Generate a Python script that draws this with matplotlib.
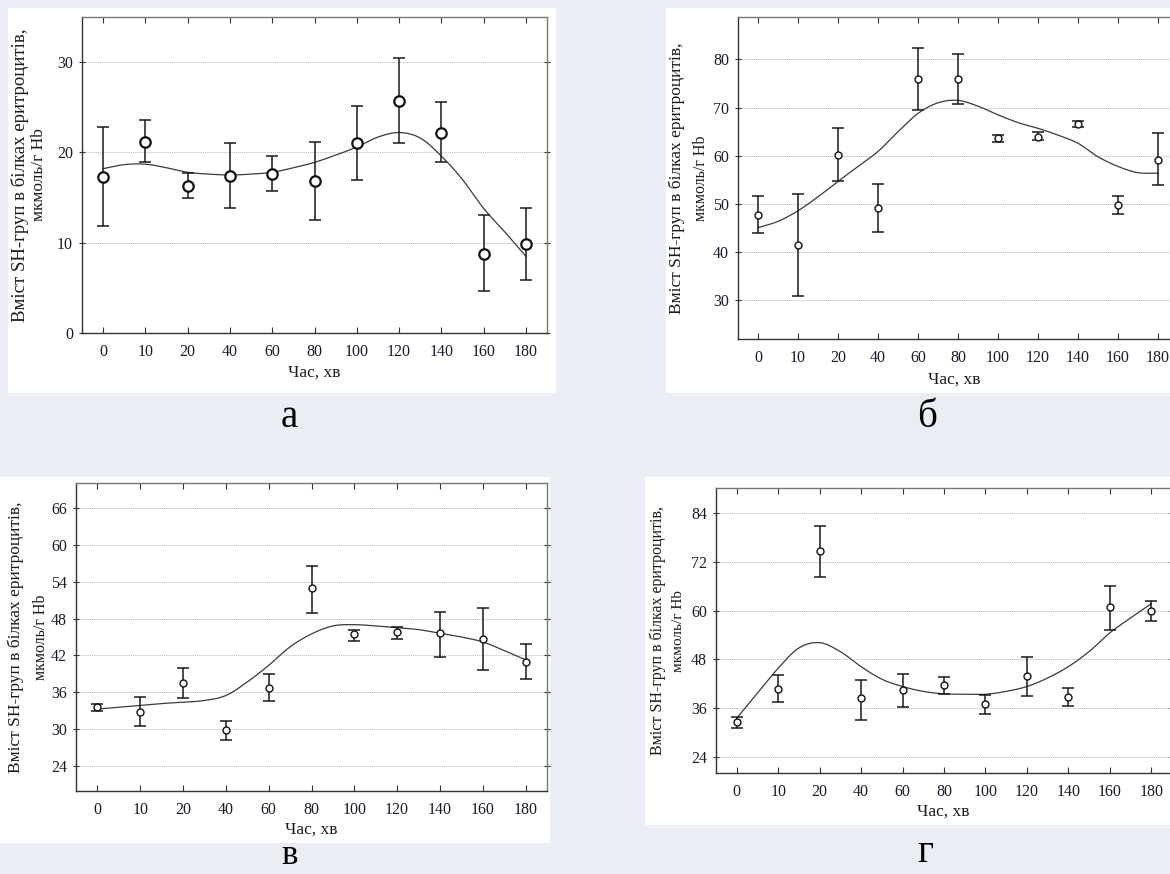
import numpy as np
import matplotlib
matplotlib.use("Agg")
from matplotlib import pyplot as plt
from matplotlib.patches import Rectangle

plt.rcParams["font.family"] = ["Liberation Serif", "DejaVu Serif"]

W, H = 1170, 874

times = ["0", "10", "20", "40", "60", "80", "100", "120", "140", "160", "180"]

# panel а
mean_a = [17.3, 21.2, 16.3, 17.4, 17.6, 16.8, 21.0, 25.7, 22.2, 8.8, 9.9]
low_a = [11.8, 18.9, 14.9, 13.9, 15.7, 12.5, 17.0, 21.0, 18.9, 4.7, 5.9]
high_a = [22.8, 23.6, 17.7, 21.0, 19.6, 21.1, 25.1, 30.5, 25.6, 13.1, 13.8]
fit_a = [18.2, 18.65, 18.7, 18.3, 17.8, 17.6, 17.5, 17.6, 17.8, 18.3, 18.9,
         19.7, 20.6, 21.7, 22.2, 21.6, 19.6, 17.0, 13.8, 11.2, 8.5]

# panel б
mean_b = [47.7, 41.4, 60.2, 49.1, 75.9, 75.9, 63.6, 64.0, 66.5, 49.9, 59.1]
low_b = [44.0, 30.9, 54.7, 44.2, 69.5, 70.7, 62.9, 63.2, 66.0, 48.0, 53.9]
high_b = [51.7, 52.0, 65.7, 54.2, 82.4, 81.2, 64.3, 64.9, 67.3, 51.7, 64.7]
fit_b = [45.1, 46.4, 48.6, 51.5, 54.7, 57.8, 60.9, 65.0, 68.8, 71.0, 71.5,
         70.3, 68.5, 66.9, 65.7, 64.3, 62.6, 59.8, 57.8, 56.5, 56.4]

# panel в
mean_c = [33.6, 32.9, 37.5, 29.9, 36.8, 52.9, 45.5, 45.8, 45.6, 44.7, 41.0]
low_c = [32.95, 30.5, 35.1, 28.2, 34.6, 48.9, 44.4, 44.6, 41.7, 39.6, 38.2]
high_c = [34.1, 35.3, 40.0, 31.3, 39.0, 56.6, 46.2, 46.7, 49.1, 49.7, 43.9]
fit_c = [33.3, 33.6, 33.9, 34.2, 34.4, 34.7, 35.5, 37.7, 40.4, 43.4, 45.5,
         46.8, 47.0, 46.8, 46.5, 46.2, 45.6, 45.0, 44.2, 42.8, 41.3]

# panel г
mean_d = [32.5, 40.8, 74.7, 38.4, 40.4, 41.7, 37.1, 43.9, 38.7, 60.8, 59.9]
low_d = [31.1, 37.5, 68.4, 33.0, 36.2, 39.4, 34.6, 39.0, 36.4, 55.2, 57.4]
high_d = [33.8, 44.1, 80.8, 43.0, 44.4, 43.6, 39.2, 48.6, 41.0, 66.0, 62.3]
fit_d = [33.5, 39.7, 45.8, 50.8, 52.1, 49.9, 46.2, 43.1, 41.3, 40.1, 39.5,
         39.4, 39.4, 40.1, 41.3, 43.4, 46.2, 49.9, 54.5, 58.2, 61.7]

ylabel1 = "Вміст SH-груп в білках еритроцитів,"
ylabel2 = "мкмоль/г Hb"
xlabel = "Час, хв"


def smooth(yk, step=0.5, n=20):
    # catmull-rom through the knots
    yk = np.asarray(yk, float)
    p = np.concatenate([[2 * yk[0] - yk[1]], yk, [2 * yk[-1] - yk[-2]]])
    t = np.linspace(0, 1, n, endpoint=False)
    xs, ys = [], []
    for i in range(len(yk) - 1):
        p0, p1, p2, p3 = p[i], p[i + 1], p[i + 2], p[i + 3]
        y = 0.5 * ((2 * p1) + (-p0 + p2) * t + (2 * p0 - 5 * p1 + 4 * p2 - p3) * t**2
                   + (-p0 + 3 * p1 - 3 * p2 + p3) * t**3)
        xs.append((i + t) * step)
        ys.append(y)
    xs.append([(len(yk) - 1) * step])
    ys.append([yk[-1]])
    return np.concatenate(xs), np.concatenate(ys)


def px_box(x0, y0, x1, y1):
    return [x0 / W, 1 - y1 / H, (x1 - x0) / W, (y1 - y0) / H]


fig = plt.figure(figsize=(W / 100, H / 100), dpi=100)
fig.patch.set_facecolor("#eaedf3")

panels = [
    dict(mean=mean_a, low=low_a, high=high_a, fit=fit_a, ylim=(0, 35), yt=[0, 10, 20, 30],
         ax=(82, 17, 547, 333), white=(8, 8, 556, 393), ms=7.5, mew=1.6, cap=4,
         yl=(20, 39), ysz=(13.5, 12.5), xl=373, letter="а", lpos=(289, 417), lsz=28),
    dict(mean=mean_b, low=low_b, high=high_b, fit=fit_b, ylim=(22, 88.8), yt=[30, 40, 50, 60, 70, 80],
         ax=(738, 17, 1178, 339), white=(666, 8, 1172, 393), ms=5, mew=1.0, cap=4,
         yl=(677, 701), ysz=(12.5, 11.5), xl=380, letter="б", lpos=(927, 417), lsz=28),
    dict(mean=mean_c, low=low_c, high=high_c, fit=fit_c, ylim=(20, 70), yt=[24, 30, 36, 42, 48, 54, 60, 66],
         ax=(76, 483, 547, 791), white=(0, 477, 550, 843), ms=5, mew=1.0, cap=4,
         yl=(16, 41), ysz=(12.5, 11.5), xl=830, letter="в", lpos=(290, 856), lsz=25),
    dict(mean=mean_d, low=low_d, high=high_d, fit=fit_d, ylim=(20, 90.2), yt=[24, 36, 48, 60, 72, 84],
         ax=(716, 488, 1172, 773), white=(645, 477, 1172, 825), ms=5, mew=1.0, cap=4,
         yl=(658, 679), ysz=(11.5, 11), xl=812, letter="г", lpos=(925, 852), lsz=28),
]

pos = np.arange(len(times))

for p in panels:
    x0, y0, x1, y1 = p["white"]
    fig.add_artist(Rectangle((x0 / W, 1 - y1 / H), (x1 - x0) / W, (y1 - y0) / H,
                             transform=fig.transFigure, facecolor="white",
                             edgecolor="none", zorder=-5))
    ax = fig.add_axes(px_box(*p["ax"]))
    ax.set_facecolor("white")
    mean = np.array(p["mean"])
    err = [mean - np.array(p["low"]), np.array(p["high"]) - mean]
    ax.errorbar(pos, mean, yerr=err, fmt="none", ecolor="#1a1a1a", elinewidth=1.1,
                capsize=p["cap"], capthick=1.1, zorder=3)
    fx, fy = smooth(p["fit"])
    ax.plot(fx, fy, color="#3a3a3a", lw=0.9, zorder=2)
    ax.plot(pos, mean, "o", ms=p["ms"], mfc="white", mec="#111111", mew=p["mew"], zorder=4)
    ax.set_xlim(-0.5, 10.5)
    ax.set_ylim(*p["ylim"])
    ax.set_xticks(pos)
    ax.set_xticklabels(times)
    ax.set_yticks(p["yt"])
    ax.yaxis.grid(True, linestyle=(0, (1, 1)), color="#b8b8b8", lw=0.7)
    ax.set_axisbelow(True)
    ax.tick_params(axis="x", direction="in", top=True, length=4, width=0.8,
                   labelsize=11.5, pad=8, colors="#333", labelcolor="#1a1a2a")
    ax.tick_params(axis="y", direction="inout", right=True, length=5, width=0.8,
                   labelsize=11.5, pad=4, colors="#333", labelcolor="#1a1a2a")
    for side in ["left", "bottom"]:
        ax.spines[side].set_color("#333")
        ax.spines[side].set_linewidth(1.0)
    for side in ["top", "right"]:
        ax.spines[side].set_color("#777")
        ax.spines[side].set_linewidth(1.0)

    ycen = 1 - (p["ax"][1] + p["ax"][3]) / 2 / H
    fig.text(p["yl"][0] / W, ycen, ylabel1, rotation=90, ha="center", va="center",
             fontsize=p["ysz"][0], color="#1a1a1a")
    fig.text(p["yl"][1] / W, ycen, ylabel2, rotation=90, ha="center", va="center",
             fontsize=p["ysz"][1], color="#1a1a1a")
    xcen = (p["ax"][0] + min(p["ax"][2], W)) / 2 / W
    fig.text(xcen, 1 - p["xl"] / H, xlabel, ha="center", va="center",
             fontsize=12.5, color="#1a1a1a")
    fig.text(p["lpos"][0] / W, 1 - p["lpos"][1] / H, p["letter"], ha="center", va="center",
             fontsize=p["lsz"], color="black")

fig.savefig("out.png", dpi=100, facecolor=fig.get_facecolor())
